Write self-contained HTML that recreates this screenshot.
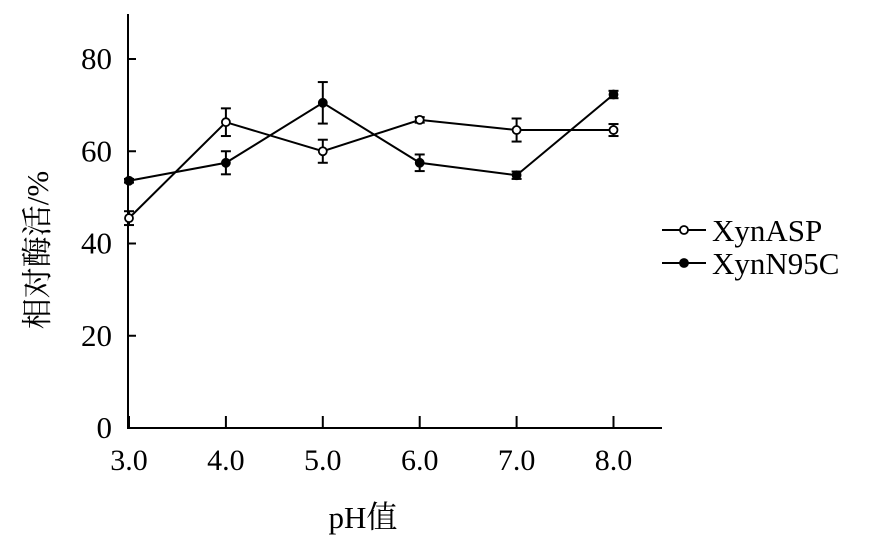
<!DOCTYPE html>
<html><head><meta charset="utf-8"><style>
body{margin:0;background:#fff;}
svg text{font-family:"Liberation Serif","Noto Serif CJK SC",serif;fill:#000;}
</style></head><body>
<svg width="871" height="543" viewBox="0 0 871 543" xmlns="http://www.w3.org/2000/svg">
<g id="plot"></g>
</svg>
<script>
const categories=[3.0,4.0,5.0,6.0,7.0,8.0];
const xTickLabels=["3.0","4.0","5.0","6.0","7.0","8.0"];
const yTicks=[0,20,40,60,80];
const aspValues=[45.5,66.3,60.0,66.8,64.6,64.6];
const aspErr=[1.5,3.0,2.5,0.6,2.5,1.3];
const n95Values=[53.6,57.5,70.5,57.5,54.8,72.3];
const n95Err=[0.4,2.5,4.5,1.8,0.8,0.8];
const NS="http://www.w3.org/2000/svg";
const g=document.getElementById('plot');
function X(v){return 129+(v-3)*96.9;}
function Y(v){return 428-v*4.6125;}
function el(t,a,p){const e=document.createElementNS(NS,t);for(const k in a)e.setAttribute(k,a[k]);(p||g).appendChild(e);return e;}
const st={stroke:'#000','stroke-width':2,fill:'none'};
let e=el('line',Object.assign({x1:128,y1:14,x2:128,y2:429},st));


e=el('line',Object.assign({x1:127,y1:428,x2:662,y2:428},st));


yTicks.forEach(v=>{
 el('line',Object.assign({x1:128,y1:Y(v),x2:136,y2:Y(v)},st));
 const t=el('text',{x:112,y:Y(v)+10,'text-anchor':'end','font-size':31});
 t.textContent=v;
 
 
});
categories.forEach((c,i)=>{
 el('line',Object.assign({x1:X(c),y1:428,x2:X(c),y2:416},st));
 const t=el('text',{x:X(c),y:470,'text-anchor':'middle','font-size':30});
 t.textContent=xTickLabels[i];
 
 
});
function series(vals,errs,filled,name){
 const s=el('g',{});
 
 
 el('polyline',Object.assign({points:categories.map((c,i)=>X(c)+','+Y(vals[i])).join(' ')},st),s);
 categories.forEach((c,i)=>{
  const x=X(c),y1=Y(vals[i]+errs[i]),y2=Y(vals[i]-errs[i]);
  el('line',{x1:x,y1:y1,x2:x,y2:y2,stroke:'#000','stroke-width':2},s);
  el('line',{x1:x-5,y1:y1,x2:x+5,y2:y1,stroke:'#000','stroke-width':2},s);
  el('line',{x1:x-5,y1:y2,x2:x+5,y2:y2,stroke:'#000','stroke-width':2},s);
  const m=el('circle',{cx:x,cy:Y(vals[i]),r:4,fill:filled?'#000':'#fff',stroke:'#000','stroke-width':1.8},s);
  
  
 });
}
series(aspValues,aspErr,false,'series-xynasp');
series(n95Values,n95Err,true,'series-xynn95c');
function legend(y,filled,label,name){
 const lg=el('g',{});
 
 
 el('line',{x1:662,y1:y,x2:706,y2:y,stroke:'#000','stroke-width':2},lg);
 el('circle',{cx:684,cy:y,r:4,fill:filled?'#000':'#fff',stroke:'#000','stroke-width':1.8},lg);
 const t=el('text',{x:712,y:y+11,'font-size':31},lg);t.textContent=label;
}
legend(230,false,'XynASP','legend-xynasp');
legend(263,true,'XynN95C','legend-xynn95c');
let t=el('text',{x:363,y:528,'text-anchor':'middle','font-size':31});
t.textContent='pH值';


t=el('text',{x:0,y:0,'text-anchor':'middle','font-size':31,transform:'translate(48,250) rotate(-90)'});
t.textContent='相对酶活/%';


</script>
</body></html>
